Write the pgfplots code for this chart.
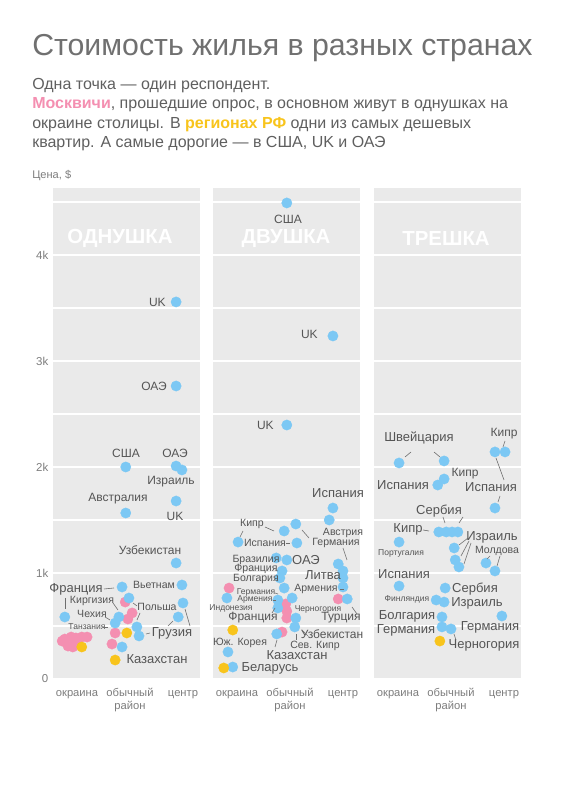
\documentclass[border=0pt]{standalone}
\usepackage{pgfplots}
\pgfplotsset{compat=1.18}
\usepackage{fontspec}
\setmainfont{Liberation Sans}
\definecolor{cblue}{RGB}{124,200,244}
\definecolor{cpink}{RGB}{244,143,177}
\definecolor{cyel}{RGB}{248,196,28}
\definecolor{cbg}{RGB}{234,234,234}
\definecolor{ctitle}{RGB}{112,112,112}
\definecolor{ctext}{RGB}{95,95,95}
\definecolor{clab}{RGB}{85,85,85}
\definecolor{ctick}{RGB}{125,125,125}
\definecolor{clead}{RGB}{110,110,110}
\tikzset{
  lL/.style={font=\fontsize{9.75}{10}\selectfont, text=clab, inner sep=0},
  lM/.style={font=\fontsize{9}{10}\selectfont, text=clab, inner sep=0},
  lS/.style={font=\fontsize{7.9}{9}\selectfont, text=clab, inner sep=0},
  lT/.style={font=\fontsize{6.4}{7}\selectfont, text=clab, inner sep=0},
  ld/.style={draw=clead, line width=0.45pt},
  sect/.style={font=\fontsize{15.3}{16}\bfseries\selectfont, text=white, inner sep=0},
}
\pgfplotsset{
  panel/.style={
    scale only axis, width=110.25pt, height=368.25pt, anchor=south west,
    xmin=-0.4528, xmax=2.3208, ymin=0, ymax=4632,
    axis background/.style={fill=cbg},
    axis line style={draw=none}, major tick length=0, minor tick length=0,
    xtick={0,1,2}, xticklabels={\strut окраина,{\strut обычный\\район},\strut центр},
    xticklabel style={align=center, font=\fontsize{8.4}{9.75}\selectfont, text=ctick, yshift=-3pt},
    ytick={0,1000,2000,3000,4000}, minor ytick={500,1500,2500,3500,4500},
    ymajorgrids, yminorgrids,
    major grid style={white, line width=0.9pt},
    minor grid style={white, line width=0.9pt},
    yticklabel style={font=\fontsize{8.6}{9}\selectfont, text=ctick},
    clip=false,
  },
  pk/.style={only marks, mark=*, mark size=3.9pt, color=cpink, mark options={solid, draw=cpink, fill=cpink, line width=0.2pt}},
  bl/.style={only marks, mark=*, mark size=3.9pt, color=cblue, mark options={solid, draw=cblue, fill=cblue, line width=0.2pt}},
  yl/.style={only marks, mark=*, mark size=3.9pt, color=cyel, mark options={solid, draw=cyel, fill=cyel, line width=0.2pt}},
}
\begin{document}
\begin{tikzpicture}
\path[use as bounding box] (0,0) rectangle (421.5pt,600pt);

% ---------- Panel 1: однушка ----------
\begin{axis}[panel, at={(39.75pt,90.75pt)}, yticklabels={0,1k,2k,3k,4k}]
\node[sect] at (rel axis cs:0.456,0.898) {ОДНУШКА};
\addplot[pk] coordinates {(0.91,726) (1.04,623) (0.96,566) (0.72,434) (0.66,330)
  (-0.28,358) (-0.23,377) (-0.11,396) (-0.02,387) (0.09,396) (0.19,396)
  (-0.17,311) (-0.08,302) (0.02,330)};
\addplot[bl] coordinates {(1.87,3557) (1.87,2764) (0.92,2000) (1.87,2009) (1.98,1972)
  (1.87,1679) (0.92,1566) (1.87,1094) (0.85,868) (1.98,887) (0.98,764) (2.0,717)
  (-0.23,585) (1.91,585) (0.79,585) (0.72,528) (1.13,491) (1.17,406) (0.85,302)};
\addplot[yl] coordinates {(0.94,434) (0.72,179) (0.09,302)};
\end{axis}

% ---------- Panel 2: двушка ----------
\begin{axis}[panel, at={(159.75pt,90.75pt)}, yticklabels={}]
\node[sect] at (rel axis cs:0.497,0.898) {ДВУШКА};
\addplot[pk] coordinates {(-0.15,858) (1.91,755) (0.92,708) (0.94,640) (0.94,575) (0.85,443)};
\addplot[bl] coordinates {(0.94,4491) (1.81,3236) (0.94,2396) (1.81,1613) (1.74,1500)
  (1.11,1462) (0.89,1396) (0.02,1292) (1.13,1283) (0.74,1142) (0.94,1123) (0.85,1019)
  (1.91,1085) (2.0,1019) (0.81,953) (0.89,858) (2.0,953) (2.0,868) (2.08,755)
  (-0.19,764) (0.77,745) (1.04,764) (0.77,670) (1.11,575) (1.09,491) (0.75,425)
  (-0.17,255) (-0.08,113)};
\addplot[yl] coordinates {(-0.08,462) (-0.25,104)};
\end{axis}

% ---------- Panel 3: трешка ----------
\begin{axis}[panel, at={(280.5pt,90.75pt)}, yticklabels={}]
\node[sect] at (rel axis cs:0.49,0.898) {ТРЕШКА};
\addplot[bl] coordinates {(0.02,2038) (0.87,2057) (1.83,2142) (2.02,2142) (0.87,1887)
  (0.75,1830) (1.83,1613) (0.77,1387) (0.91,1387) (1.02,1387) (1.13,1387) (0.02,1292)
  (1.06,1236) (1.08,1123) (1.15,1057) (1.66,1094) (1.83,1019) (0.02,877) (0.89,858)
  (0.72,745) (0.87,726) (1.96,594) (0.83,585) (0.83,491) (1.0,472)};
\addplot[yl] coordinates {(0.79,358)};
\end{axis}

\begin{scope}[shift={(0,600pt)}, x=0.75pt, y=-0.75pt]
% titles
\node[anchor=base west, inner sep=0, font=\fontsize{22.7}{26}\selectfont, text=ctitle] at (32,56) {Стоимость жилья в разных странах};
\begin{scope}[every node/.style={anchor=base west, inner sep=0, font=\fontsize{12}{14}\selectfont, text=ctext}]
\node at (32,90) {Одна точка — один респондент.};
\node at (32,109) {\textcolor{cpink}{\bfseries Москвичи}, прошедшие опрос, в основном живут в однушках на};
\node at (32,129) {окраине столицы. В \textcolor{cyel}{\bfseries регионах РФ} одни из самых дешевых};
\node at (32,148) {квартир. А самые дорогие — в США, UK и ОАЭ};
\end{scope}
\node[anchor=base west, inner sep=0, font=\fontsize{8.3}{9}\selectfont, text=ctick] at (32,179) {Цена, \$};

% panel 1 labels
\node[lM, anchor=east] at (166,302) {UK};
\node[lM, anchor=east] at (167,386) {ОАЭ};
\node[lM] at (126,453) {США};
\node[lM] at (175,453) {ОАЭ};
\node[lM] at (171,482) {Израиль};
\node[lM] at (118,499) {Австралия};
\node[lM] at (175,516) {UK};
\node[lM] at (150,550) {Узбекистан};
\node[lL, anchor=east] at (103,589) {Франция};
\draw[ld] (104,589)--(114,588);
\draw[ld] (65,598)--(65,609);
\node[lS] at (154,585) {Вьетнам};
\node[lS] at (92,601) {Киргизия};
\draw[ld] (113,603)--(118,610);
\node[lS] at (157,607) {Польша};
\draw[ld] (133,603)--(137,606);
\draw[ld] (140,613)--(137,620);
\node[lS] at (92,614) {Чехия};
\draw[ld] (105,617)--(110,620);
\node[lT] at (87,627) {Танзания};
\draw[ld] (103,627)--(108,627);
\node[lL] at (172,633) {Грузия};
\draw[ld] (146,634)--(150,633);
\draw[ld] (185,609)--(190,626);
\draw[ld] (173,621)--(168,626);
\node[lL] at (157,659) {Казахстан};

% panel 2 labels
\node[lM] at (288,219) {США};
\node[lM, anchor=east] at (318,334) {UK};
\node[lM, anchor=east] at (274,425) {UK};
\node[lL] at (338,493) {Испания};
\node[lS] at (343,533) {Австрия};
\node[lS] at (252,524) {Кипр};
\draw[ld] (265,527)--(274,531);
\draw[ld] (243,531)--(240,537);
\node[lS] at (336,543) {Германия};
\draw[ld] (302,530)--(309,538);
\draw[ld] (343,548)--(347,560);
\node[lS] at (265,543) {Испания};
\draw[ld] (286,543)--(290,543);
\node[lS] at (256,560) {Бразилия};
\node[lL] at (306,560) {ОАЭ};
\node[lS] at (256,569) {Франция};
\draw[ld] (275,570)--(278,571);
\node[lL] at (323,575) {Литва};
\node[lS] at (256,579) {Болгария};
\draw[ld] (275,580)--(278,581);
\node[lS] at (316,589) {Армения};
\draw[ld] (340,589)--(344,589);
\node[lT] at (256,592) {Германия};
\draw[ld] (275,593)--(278,594);
\node[lT] at (255,599) {Армения};
\draw[ld] (273,600)--(276,600);
\node[lT] at (231,608) {Индонезия};
\node[lT] at (318,609) {Черногория};
\node[lM] at (253,618) {Франция};
\draw[ld] (272,613)--(275,608);
\node[lM] at (341,618) {Турция};
\draw[ld] (352,607)--(357,614);
\node[lM] at (332,634) {Узбекистан};
\draw[ld] (303,631)--(308,636);
\node[lS] at (315,646) {Сев. Кипр};
\draw[ld] (296,634)--(296,640);
\node[lL] at (297,655) {Казахстан};
\draw[ld] (277,640)--(275,647);
\node[lS] at (240,643) {Юж. Корея};
\node[lL] at (270,668) {Беларусь};

% panel 3 labels
\node[lL] at (419,438) {Швейцария};
\draw[ld] (411,452)--(405,457);
\draw[ld] (434,452)--(440,457);
\node[lM] at (504,434) {Кипр};
\draw[ld] (505,441)--(503,447);
\node[lM] at (465,474) {Кипр};
\node[lL] at (403,485) {Испания};
\node[lL] at (491,487) {Испания};
\draw[ld] (496,458)--(504,480);
\draw[ld] (500,496)--(498,502);
\node[lL] at (439,511) {Сербия};
\draw[ld] (443,517)--(445,523);
\draw[ld] (463,517)--(459,523);
\node[lL] at (408,529) {Кипр};
\draw[ld] (423,530)--(429,531);
\node[lL] at (492,537) {Израиль};
\draw[ld] (468,538)--(459,545);
\draw[ld] (469,541)--(461,556);
\draw[ld] (471,543)--(464,564);
\node[lT] at (401,553) {Португалия};
\node[lS] at (497,551) {Молдова};
\draw[ld] (500,556)--(497,566);
\draw[ld] (490,556)--(487,559);
\node[lL] at (404,574) {Испания};
\node[lL] at (475,589) {Сербия};
\node[lT] at (407,599) {Финляндия};
\node[lL] at (477,603) {Израиль};
\node[lL] at (407,616) {Болгария};
\node[lL] at (406,630) {Германия};
\node[lL] at (490,627) {Германия};
\node[lL] at (484,645) {Черногория};
\draw[ld] (454,634)--(456,640);
\end{scope}
\end{tikzpicture}
\end{document}
